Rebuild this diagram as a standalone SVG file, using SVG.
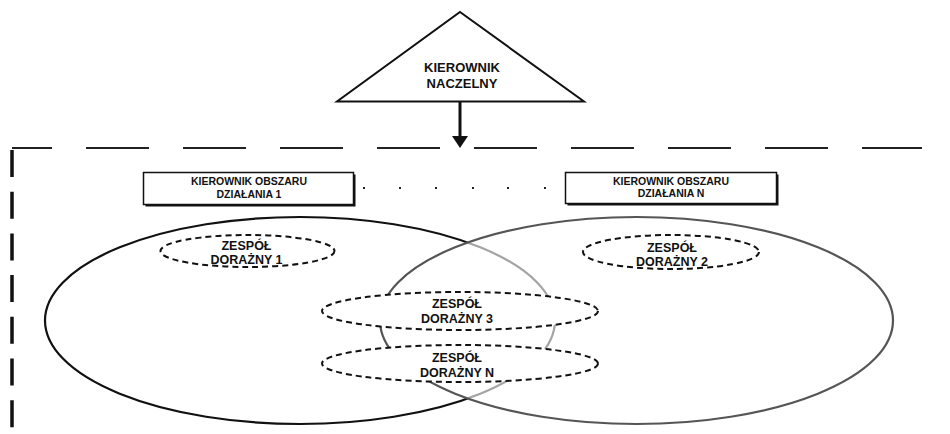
<svg xmlns="http://www.w3.org/2000/svg" width="950" height="434" viewBox="0 0 950 434">
  <defs>
    <style>
      text { font-family: "Liberation Sans", Arial, sans-serif; font-weight: bold; fill: #111; text-anchor: middle; }
      .t13 { font-size: 13px; }
      .t12 { font-size: 12.5px; }
      .t10 { font-size: 10.5px; }
      .team { fill: #fff; stroke: #111; stroke-width: 2; stroke-dasharray: 6 4; }
      .box { fill: #fff; stroke: #111; stroke-width: 1.5; }
      .shadow { fill: #111; }
    </style>
  </defs>

  <rect width="950" height="434" fill="#fff"/>

  <!-- organisation boundary (dashed corner) -->
  <g id="boundary">
    <line x1="12" y1="148" x2="922" y2="148" stroke="#222" stroke-width="2" stroke-dasharray="63 34" stroke-dashoffset="23"/>
    <line x1="12" y1="150" x2="12" y2="434" stroke="#111" stroke-width="3.5" stroke-dasharray="27 14.7"/>
  </g>

  <!-- operating areas -->
  <g id="area-1">
    <ellipse cx="300" cy="320.5" rx="255" ry="103.5" fill="none" stroke="#111" stroke-width="2.2"/>
  </g>
  <g id="area-n">
    <ellipse cx="636.5" cy="320.5" rx="256.5" ry="103.5" fill="#fff" fill-opacity="0.62" stroke="#555" stroke-width="2.2"/>
  </g>

  <!-- chief manager -->
  <g id="chief">
    <polygon points="460,12 584,101.5 337,101.5" fill="#fff" stroke="#111" stroke-width="2" stroke-linejoin="miter"/>
    <text class="t13" x="462" y="72">KIEROWNIK</text>
    <text class="t13" x="462" y="88">NACZELNY</text>
  </g>

  <!-- connectors -->
  <g id="connectors">
    <line x1="460" y1="102" x2="460" y2="138" stroke="#111" stroke-width="3"/>
    <polygon points="452,136 468,136 460,148" fill="#111"/>
    <g fill="#222">
      <rect x="363" y="187" width="2" height="2"/>
      <rect x="399" y="187" width="2" height="2"/>
      <rect x="435" y="187" width="2" height="2"/>
      <rect x="472" y="187" width="2" height="2"/>
      <rect x="507" y="187" width="2" height="2"/>
      <rect x="544" y="187" width="2" height="2"/>
    </g>
  </g>

  <!-- area managers -->
  <g id="manager-1">
    <rect class="shadow" x="145.5" y="174.5" width="210" height="32"/>
    <rect class="box" x="143.5" y="172.5" width="210" height="32"/>
    <text class="t10" x="249" y="185">KIEROWNIK OBSZARU</text>
    <text class="t10" x="249" y="198">DZIAŁANIA 1</text>
  </g>
  <g id="manager-n">
    <rect class="shadow" x="567.5" y="174.5" width="211" height="31"/>
    <rect class="box" x="565.5" y="172.5" width="211" height="31"/>
    <text class="t10" x="671" y="185">KIEROWNIK OBSZARU</text>
    <text class="t10" x="671" y="197">DZIAŁANIA N</text>
  </g>

  <!-- response teams -->
  <g id="team-1">
    <ellipse class="team" cx="247.5" cy="251" rx="87" ry="16"/>
    <text class="t12" x="246.5" y="250">ZESPÓŁ</text>
    <text class="t12" x="246.5" y="264">DORAŻNY 1</text>
  </g>
  <g id="team-2">
    <ellipse class="team" cx="671" cy="252" rx="88" ry="17"/>
    <text class="t12" x="672" y="252">ZESPÓŁ</text>
    <text class="t12" x="672" y="266">DORAŻNY 2</text>
  </g>
  <g id="team-3">
    <ellipse class="team" cx="460" cy="311" rx="138" ry="19"/>
    <text class="t12" x="457" y="308">ZESPÓŁ</text>
    <text class="t12" x="457" y="323">DORAŻNY 3</text>
  </g>
  <g id="team-n">
    <ellipse class="team" cx="460" cy="363.5" rx="138" ry="18.5"/>
    <text class="t12" x="457" y="362">ZESPÓŁ</text>
    <text class="t12" x="457" y="377">DORAŻNY N</text>
  </g>
</svg>
